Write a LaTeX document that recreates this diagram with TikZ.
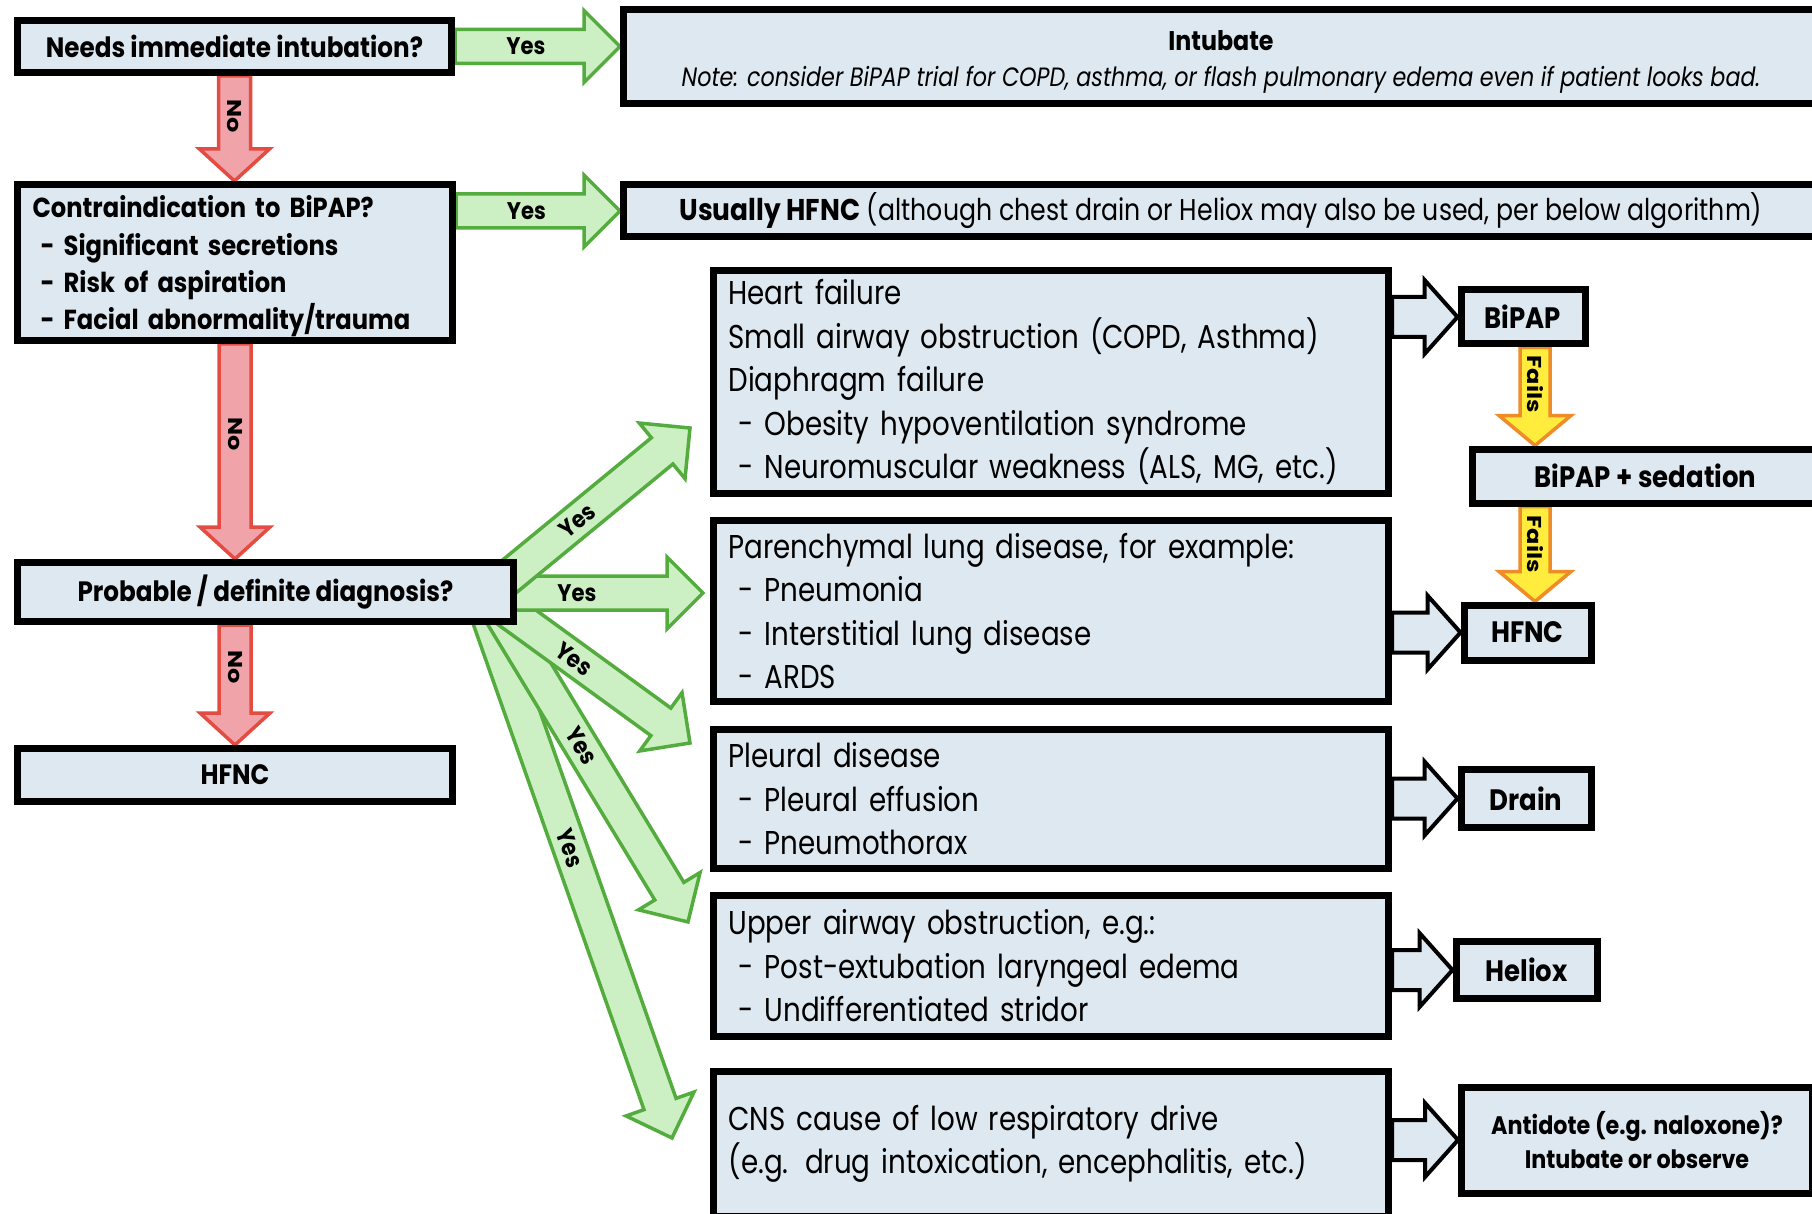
\documentclass[tikz,border=0pt]{standalone}
\usepackage{fontspec}
\setmainfont{Poppins}[FakeStretch=0.84,BoldFeatures={FakeStretch=0.88}]
\newfontfamily\vertfont{Poppins}[FakeStretch=1.2]
\usepackage{xcolor}
\definecolor{qboxfill}{RGB}{221,232,240}
\definecolor{qgreen}{RGB}{84,172,62}
\definecolor{qgreenfill}{RGB}{204,240,196}
\definecolor{qred}{RGB}{228,76,66}
\definecolor{qredfill}{RGB}{240,164,170}
\definecolor{qorange}{RGB}{240,140,40}
\definecolor{qyellow}{RGB}{255,236,60}
\usepackage{tikz}
\usetikzlibrary{calc,positioning,backgrounds}

\tikzset{
  fa shaft/.store in=\faShaft, fa head/.store in=\faHead,
  fa len/.store in=\faLen, fa pos/.store in=\faPos,
  fa shaft=17pt, fa head=36pt, fa len=34pt, fa pos=0.5,
  fa text/.style={font=\bfseries\fontsize{24}{26}\selectfont,text=black,inner sep=0pt},
  yesarrow/.style={draw=qgreen,fill=qgreenfill,line width=3.5pt,
    fa shaft=17pt,fa head=36pt,fa len=36pt},
  noarrow/.style={draw=qred,fill=qredfill,line width=3.5pt,
    fa shaft=16pt,fa head=35pt,fa len=32pt,
    fa text/.append style={font=\vertfont\bfseries\fontsize{20}{22}\selectfont}},
  failarrow/.style={draw=qorange,fill=qyellow,line width=3.5pt,
    fa shaft=15pt,fa head=36pt,fa len=30pt,
    fa text/.append style={font=\vertfont\bfseries\fontsize{20}{22}\selectfont}},
  thenarrow/.style={draw=black,fill=qboxfill,line width=4pt,
    fa shaft=20pt,fa head=37pt,fa len=33pt},
  qbox/.style={draw=black,line width=7pt,fill=qboxfill,inner sep=0pt,
    font=\bfseries\fontsize{28}{37.4}\selectfont},
  tbox/.style={qbox,font=\bfseries\fontsize{29.5}{32}\selectfont},
  dbox/.style={draw=black,line width=7pt,fill=qboxfill,inner xsep=15pt,inner ysep=0pt,
    minimum width=675,text width=645,align=left,font=\fontsize{33}{43.5}\selectfont}
}

% block arrow from #2 to #3 with label #4
\newcommand\fatarrow[4][]{%
  \path[#1] let \p1=(#2), \p2=(#3),
      \n1={atan2(\y2-\y1,\x2-\x1)}, \n2={veclen(\x2-\x1,\y2-\y1)} in
    [shift={(\p1)},rotate=\n1]
    (0pt,\faShaft) -- ({\n2-\faLen},\faShaft) -- ({\n2-\faLen},\faHead)
    -- (\n2,0pt) -- ({\n2-\faLen},-\faHead) -- ({\n2-\faLen},-\faShaft)
    -- (0pt,-\faShaft) -- cycle
    ({(\n2-\faLen)*\faPos},0pt) node[fa text,rotate=\n1] {#4};
}

\begin{document}
\begin{tikzpicture}[x=1pt,y=-1pt]
  \useasboundingbox (0,0) rectangle (1812,1214);
  \clip (0,0) rectangle (1812,1214);

  % questions
  \node[qbox,minimum width=434,minimum height=52] (needs) at (234.5,46.5)
    {Needs immediate intubation?};
  \node[qbox,minimum width=435,minimum height=156,text width=405,inner xsep=15pt,
        align=left,font=\bfseries\fontsize{27.5}{37.4}\selectfont] (contra) at (235,262.5)
    {\rule{0pt}{30pt}Contraindication to BiPAP?\\
     \hspace*{8pt}- Significant secretions\\
     \hspace*{8pt}- Risk of aspiration\\
     \hspace*{8pt}- Facial abnormality/trauma};
  \node[qbox,minimum width=496,minimum height=59] (prob) at (265.5,592)
    {Probable / definite diagnosis?};
  \node[qbox,minimum width=435,minimum height=53] (hfncA) at (235,775) {HFNC};

  % top results
  \node[qbox,minimum width=1195,minimum height=94,align=center,
        font=\fontsize{26.5}{36}\selectfont] (intub) at (1221,56.5)
    {{\rule{0pt}{30pt}\bfseries\fontsize{27}{36}\selectfont Intubate}\\
     \itshape Note: consider BiPAP trial for COPD, asthma, or flash pulmonary edema even if patient looks bad.};
  \node[qbox,minimum width=1195,minimum height=52,font=\fontsize{30}{32}\selectfont]
    (usual) at (1221,211)
    {\textbf{Usually HFNC} (although chest drain or Heliox may also be used, per below algorithm)};

  % diagnoses
  \node[dbox,minimum height=223] (heart) at (1051,382)
    {Heart failure\\
     Small airway obstruction (COPD, Asthma)\\
     Diaphragm failure\\
     \hspace*{10pt}- Obesity hypoventilation syndrome\\
     \hspace*{10pt}- Neuromuscular weakness (ALS, MG, etc.)};
  \node[dbox,minimum height=181,below=20pt of heart] (paren)
    {Parenchymal lung disease, for example:\\
     \hspace*{10pt}- Pneumonia\\
     \hspace*{10pt}- Interstitial lung disease\\
     \hspace*{10pt}- ARDS};
  \node[dbox,minimum height=139,below=21pt of paren] (pleur)
    {Pleural disease\\
     \hspace*{10pt}- Pleural effusion\\
     \hspace*{10pt}- Pneumothorax};
  \node[dbox,minimum height=141,below=20pt of pleur] (upper)
    {Upper airway obstruction, e.g.:\\
     \hspace*{10pt}- Post-extubation laryngeal edema\\
     \hspace*{10pt}- Undifferentiated stridor};
  \node[dbox,minimum height=145,below=28pt of upper] (cns)
    {CNS cause of low respiratory drive\\
     (e.g. drug intoxication, encephalitis, etc.)};

  % therapies
  \node[tbox,minimum width=124,minimum height=54] (bipap) at (1523,317) {BiPAP};
  \node[tbox,minimum width=346,minimum height=54] (sedat) at (1645.5,476) {BiPAP + sedation};
  \node[tbox,minimum width=127,minimum height=55] (hfncB) at (1527.5,632.5) {HFNC};
  \node[tbox,minimum width=130,minimum height=58] (drain) at (1526,798.5) {Drain};
  \node[tbox,minimum width=141,minimum height=57] (heliox) at (1526.5,970) {Heliox};
  \node[qbox,minimum width=351,minimum height=106,align=center,
        font=\bfseries\fontsize{25.3}{33.5}\selectfont] (antid) at (1637,1140)
    {Antidote (e.g. naloxone)?\\Intubate or observe};

  % fan of yes arrows
  \coordinate (fanA) at (505,580);  \coordinate (tipA) at (690,428);
  \coordinate (fanB) at (500,593);  \coordinate (tipB) at (703,593);
  \coordinate (fanC) at (500,605);  \coordinate (tipC) at (690,743);
  \coordinate (fanD) at (500,612);  \coordinate (tipD) at (688,922);
  \coordinate (fanE) at (487,612);  \coordinate (tipE) at (672,1138);
  \coordinate (failx) at ([xshift=12pt]bipap.south);

  \begin{scope}[on background layer]
    \fatarrow[yesarrow,fa pos=0.55]{needs.east}{needs.east -| intub.west}{Yes}
    \fatarrow[yesarrow,fa pos=0.55]{contra.east |- usual.west}{usual.west}{Yes}
    \fatarrow[noarrow,fa pos=0.55]{needs.south}{needs.south |- contra.north}{No}
    \fatarrow[noarrow,fa pos=0.49]{contra.south}{contra.south |- prob.north}{No}
    \fatarrow[noarrow,fa pos=0.48]{hfncA.north |- prob.south}{hfncA.north}{No}
    \fatarrow[yesarrow,fa pos=0.48]{fanE}{tipE}{Yes}
    \fatarrow[yesarrow,fa pos=0.48]{fanD}{tipD}{Yes}
    \fatarrow[yesarrow,fa pos=0.46]{fanC}{tipC}{Yes}
    \fatarrow[yesarrow,fa pos=0.46]{fanB}{tipB}{Yes}
    \fatarrow[yesarrow,fa pos=0.46]{fanA}{tipA}{Yes}
    \fatarrow[thenarrow]{heart.east |- bipap.west}{bipap.west}{}
    \fatarrow[thenarrow]{paren.east |- hfncB.west}{hfncB.west}{}
    \fatarrow[thenarrow]{pleur.east |- drain.west}{drain.west}{}
    \fatarrow[thenarrow]{upper.east |- heliox.west}{heliox.west}{}
    \fatarrow[thenarrow]{cns.east |- antid.west}{antid.west}{}
    \fatarrow[failarrow,fa pos=0.54]{failx}{failx |- sedat.north}{Fails}
    \fatarrow[failarrow,fa pos=0.58]{failx |- sedat.south}{failx |- hfncB.north}{Fails}
  \end{scope}
\end{tikzpicture}
\end{document}
